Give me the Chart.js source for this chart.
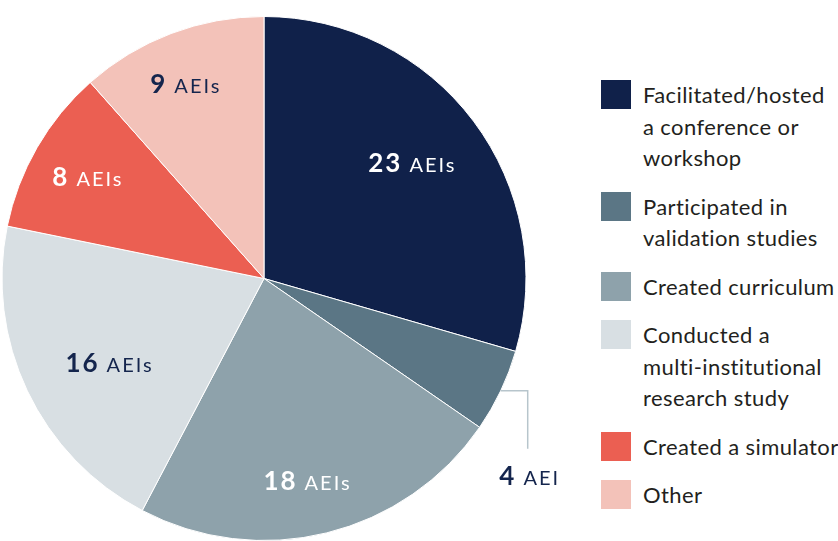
<!DOCTYPE html>
<html>
<head>
<meta charset="utf-8">
<script src="https://cdn.jsdelivr.net/npm/chart.js@4.4.1/dist/chart.umd.min.js"></script>
<style>
    body { margin: 0; background: #fff; width: 838px; height: 541px; overflow: hidden; position: relative; font-family: Lato, sans-serif; }
    #pieBox { position: absolute; left: 0; top: 16px; width: 600px; height: 525px; }
    #legend { position: absolute; left: 601px; top: 79px; font-size: 22px; line-height: 31.5px; letter-spacing: 0.4px; color: #231f20; }
    .item { position: relative; padding-left: 42px; margin-bottom: 17px; white-space: nowrap; }
    .swatch { position: absolute; left: 0; top: 1px; width: 30px; height: 29px; }
</style>
</head>
<body>
<div id="pieBox"><canvas id="aeiChart"></canvas></div>
<div id="legend"></div>
<script>
// Categories (one array per legend line) and counts, clockwise from 12 o'clock
const categories = [
    ['Facilitated/hosted', 'a conference or', 'workshop'],
    ['Participated in', 'validation studies'],
    ['Created curriculum'],
    ['Conducted a', 'multi-institutional', 'research study'],
    ['Created a simulator'],
    ['Other']
];
const aeiCounts = [23, 4, 18, 16, 8, 9];
const unitLabels = ['AEIs', 'AEI', 'AEIs', 'AEIs', 'AEIs', 'AEIs'];

const sliceColors = ['#10214a', '#5b7685', '#8ea2ab', '#d8dfe3', '#eb5f52', '#f3c2b9'];
const labelColors = ['#ffffff', '#14254d', '#ffffff', '#14254d', '#ffffff', '#14254d'];

// Label placement: [fraction of radius, angle nudge in degrees]; null = outside label with leader line
const labelPlacement = [[0.717, -0.9], null, [0.789, 1.7], [0.672, -3.3], [0.776, 0], [0.801, -1.1]];
const leader = { dx: 27, dy: 58, textGap: 27 };

document.addEventListener('DOMContentLoaded', () => {
    // Legend built as HTML
    const legendElement = document.getElementById('legend');
    categories.forEach((lines, i) => {
        const item = document.createElement('div');
        item.className = 'item';
        const swatch = document.createElement('span');
        swatch.className = 'swatch';
        swatch.style.backgroundColor = sliceColors[i];
        item.appendChild(swatch);
        lines.forEach((line, j) => {
            if (j > 0) item.appendChild(document.createElement('br'));
            item.appendChild(document.createTextNode(line));
        });
        legendElement.appendChild(item);
    });

    // Bold number followed by lighter unit, centred on (cx, cy)
    const drawValue = (ctx, value, unit, cx, cy, color) => {
        ctx.save();
        ctx.fillStyle = color;
        ctx.textBaseline = 'alphabetic';
        ctx.font = 'bold 26px Lato';
        ctx.letterSpacing = '2px';
        const numWidth = ctx.measureText(String(value)).width;
        ctx.font = '20px Lato';
        ctx.letterSpacing = '2px';
        const unitWidth = ctx.measureText(unit).width;
        const gap = 7;
        const left = cx - (numWidth + gap + unitWidth) / 2;
        const baseline = cy + 9;
        ctx.fillText(unit, left + numWidth + gap, baseline);
        ctx.font = 'bold 26px Lato';
        ctx.fillText(String(value), left, baseline);
        ctx.restore();
    };

    const sliceLabels = {
        id: 'sliceLabels',
        afterDatasetsDraw(chart) {
            const ctx = chart.ctx;
            chart.getDatasetMeta(0).data.forEach((arc, i) => {
                const { x, y, startAngle, endAngle, outerRadius } =
                    arc.getProps(['x', 'y', 'startAngle', 'endAngle', 'outerRadius'], true);
                const mid = (startAngle + endAngle) / 2;
                const place = labelPlacement[i];
                if (place) {
                    const a = mid + place[1] * Math.PI / 180;
                    const r = outerRadius * place[0];
                    drawValue(ctx, aeiCounts[i], unitLabels[i], x + Math.cos(a) * r, y + Math.sin(a) * r, labelColors[i]);
                } else {
                    // Leader line from the slice edge
                    const ex = x + Math.cos(mid) * outerRadius;
                    const ey = y + Math.sin(mid) * outerRadius;
                    ctx.save();
                    ctx.strokeStyle = '#b7c5cc';
                    ctx.lineWidth = 1.5;
                    ctx.beginPath();
                    ctx.moveTo(ex, ey);
                    ctx.lineTo(ex + leader.dx, ey);
                    ctx.lineTo(ex + leader.dx, ey + leader.dy);
                    ctx.stroke();
                    ctx.restore();
                    drawValue(ctx, aeiCounts[i], unitLabels[i], ex + leader.dx + 2, ey + leader.dy + leader.textGap, labelColors[i]);
                }
            });
        }
    };

    new Chart(document.getElementById('aeiChart').getContext('2d'), {
        type: 'pie',
        data: {
            labels: categories,
            datasets: [{
                data: aeiCounts,
                backgroundColor: sliceColors,
                borderColor: '#ffffff',
                borderWidth: 1,
            }]
        },
        options: {
            responsive: true,
            maintainAspectRatio: false,
            animation: false,
            layout: { padding: { right: 72 } },
            plugins: {
                legend: { display: false },
                tooltip: { enabled: false },
            },
        },
        plugins: [sliceLabels],
    });
});
</script>
</body>
</html>
